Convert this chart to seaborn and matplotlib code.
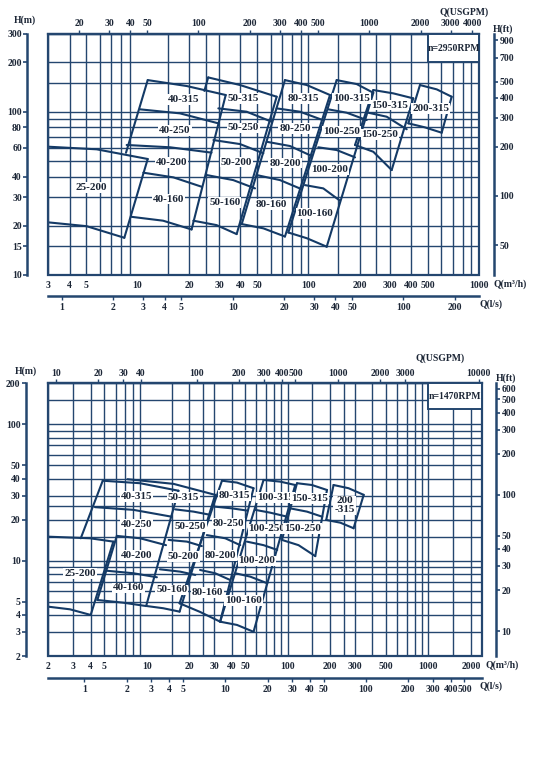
import matplotlib
matplotlib.use("Agg")
import numpy as np
import pandas as pd
import matplotlib.pyplot as plt
import seaborn as sns
from matplotlib.patches import Rectangle
from matplotlib.ticker import NullLocator

# ======================= DATA =======================
# ---- upper chart: n = 2950 rpm ; Q in m3/h, H in m ----
hi_25_models = ['25-200']
hi_25_Q = [[3.0, 5.76, 11.46], [3.0, 5.03, 8.36]]
hi_25_H = [[61.0, 58.8, 51.3], [21.0, 19.9, 16.9]]
hi_25_leftQ = []
hi_25_leftH = []

hi_40_models = ['40-315', '40-250', '40-200', '40-160']
hi_40_Q = [[11.46, 19.38, 32.8], [10.33, 17.7, 29.7], [8.63, 15.5, 27.1],
           [10.8, 16.2, 23.7], [9.23, 14.1, 20.7]]
hi_40_H = [[156, 143.5, 126.4], [103.3, 97.6, 84.8], [62.5, 60.5, 56.1],
           [42.3, 39.6, 34.7], [22.7, 21.5, 19.0]]
hi_40_leftQ = [[11.46, 8.55]]
hi_40_leftH = [[156, 56.0]]

hi_50_models = ['50-315', '50-250', '50-200', '50-160']
hi_50_Q = [[25.9, 39.8, 65.2], [29.7, 43.5, 61.0], [27.8, 39.8, 54.5],
           [25.4, 36.3, 48.7], [21.2, 29.0, 38.0]]
hi_50_H = [[162, 145.5, 123.4], [104.7, 99.9, 86.7], [67.0, 63.3, 55.6],
           [40.9, 38.1, 33.9], [21.5, 20.2, 17.8]]
hi_50_leftQ = [[25.9, 24.6]]
hi_50_leftH = [[162, 134]]

hi_80_models = ['80-315', '80-250', '80-200', '80-160']
hi_80_Q = [[72.9, 97.8, 133.8], [65.2, 89.3, 121.3], [57.0, 78.0, 104.6],
           [49.8, 68.2, 91.4], [40.7, 54.5, 72.9]]
hi_80_H = [[156, 145.5, 126.4], [104.7, 99.9, 88.8], [65.4, 61.6, 53.5],
           [40.9, 38.1, 33.5], [20.5, 19.3, 17.2]]
hi_80_leftQ = [[72.9, 40.7]]
hi_80_leftH = [[156, 20.5]]

hi_100_models = ['100-315', '100-250', '100-200', '100-160']
hi_100_Q = [[146.4, 191.7, 239.9], [130.8, 167.6, 219.4], [114.2, 146.4, 187.5],
            [95.5, 122.2, 153.1], [76.3, 97.8, 128.0]]
hi_100_H = [[156, 147.5, 130.5], [103.3, 98.5, 88.8], [60.5, 58.2, 52.5],
            [35.5, 33.9, 28.5], [18.2, 16.8, 14.9]]
hi_100_leftQ = [[146.4, 76.3]]
hi_100_leftH = [[156, 18.2]]

hi_150_models = ['150-315', '150-250']
hi_150_Q = [[239.9, 314, 411], [224.2, 287.4, 376.3], [187.5, 239.9, 307.3]]
hi_150_H = [[135.6, 129.4, 120.6], [98.5, 93.1, 78.0], [62.5, 56.8, 43.9]]
hi_150_leftQ = [[239.9, 187.5]]
hi_150_leftH = [[135.6, 62.5]]

hi_200_models = ['200-315']
hi_200_Q = [[450, 564, 690], [384.6, 481.7, 603]]
hi_200_H = [[145.5, 136.9, 123.4], [84.8, 80.1, 74.3]]
hi_200_leftQ = [[450, 384.6]]
hi_200_leftH = [[145.5, 84.8]]

# ---- lower chart: n = 1470 rpm ----
lo_25_models = ['25-200']
lo_25_Q = [[2.0, 3.96, 5.79], [2.0, 2.85, 4.00]]
lo_25_H = [[15.0, 14.6, 13.8], [4.60, 4.40, 4.00]]
lo_25_leftQ = []
lo_25_leftH = []

lo_40_models = ['40-315', '40-250', '40-200', '40-160']
lo_40_Q = [[4.87, 8.97, 16.8], [4.29, 8.04, 15.1], [6.13, 8.97, 13.7],
           [5.14, 8.04, 11.8], [4.46, 6.82, 9.90]]
lo_40_H = [[38.6, 37.0, 32.6], [24.7, 23.6, 21.0], [15.2, 14.6, 13.0],
           [8.45, 8.09, 7.56], [5.15, 4.92, 4.65]]
lo_40_leftQ = [[4.87, 3.40], [6.13, 4.46]]
lo_40_leftH = [[38.6, 14.6], [15.2, 5.15]]

lo_50_models = ['50-315', '50-250', '50-200', '50-160']
lo_50_Q = [[7.29, 15.5, 30.6], [15.9, 21.5, 28.2], [14.3, 19.3, 24.6],
           [12.4, 17.3, 22.1], [10.0, 13.1, 17.1]]
lo_50_H = [[39.6, 36.6, 30.4], [23.8, 22.9, 21.7], [14.2, 13.8, 12.8],
           [8.65, 8.31, 7.86], [4.65, 4.48, 4.23]]
lo_50_leftQ = []
lo_50_leftH = []

lo_80_models = ['80-315', '80-250', '80-200', '80-160']
lo_80_Q = [[34.2, 43.7, 57.3], [30.6, 40.2, 51.9], [26.7, 36.1, 46.1],
           [23.9, 30.6, 39.1], [17.1, 23.9, 33.2]]
lo_80_H = [[38.6, 37.4, 34.0], [24.9, 24.2, 23.3], [15.4, 14.6, 13.0],
           [8.55, 8.09, 7.22], [4.87, 4.21, 3.57]]
lo_80_leftQ = [[34.2, 17.1]]
lo_80_leftH = [[38.6, 4.87]]

lo_100_models = ['100-315', '100-250', '100-200', '100-160']
lo_100_Q = [[67.5, 88.7, 113.3], [58.9, 75.3, 99.9], [51.4, 67.5, 84.4],
            [42.5, 54.3, 71.7], [33.2, 43.7, 57.3]]
lo_100_H = [[39.1, 38.0, 35.9], [23.6, 22.5, 21.0], [13.8, 13.0, 12.0],
            [8.09, 7.64, 6.83], [3.57, 3.38, 3.01]]
lo_100_leftQ = [[67.5, 33.2]]
lo_100_leftH = [[39.1, 3.57]]

lo_150_models = ['150-315', '150-250']
lo_150_Q = [[116.6, 149, 190.4], [104.4, 137.3, 176.3], [91.2, 119.6, 157.2]]
lo_150_H = [[37.0, 35.9, 33.0], [24.2, 22.9, 21.0], [14.2, 13.0, 10.8]]
lo_150_leftQ = [[116.6, 91.2]]
lo_150_leftH = [[37.0, 14.2]]

lo_200_models = ['200\n-315']
lo_200_Q = [[212, 271, 347], [188, 237, 294]]
lo_200_H = [[35.9, 34.0, 30.4], [19.9, 19.0, 17.3]]
lo_200_leftQ = [[212, 188]]
lo_200_leftH = [[35.9, 19.9]]

# ---- axes ticks / grids ----
hi_xlim = (3, 1000)
hi_ylim = (10, 300)
hi_grid_x = [3, 4, 5, 6, 7, 8, 9, 15, 20, 25, 30, 40, 50, 60, 70, 80, 90, 100, 150,
             200, 250, 300, 400, 500, 600, 700, 800, 900, 1000]
hi_grid_y = [10, 15, 20, 30, 40, 50, 60, 70, 80, 90, 100, 150, 200, 300]
hi_m3h_ticks = [3, 4, 5, 10, 20, 30, 40, 50, 100, 200, 300, 400, 500, 1000]
hi_ls_ticks = [1, 2, 3, 4, 5, 10, 20, 30, 40, 50, 100, 200]
hi_gpm_ticks = [20, 30, 40, 50, 100, 200, 300, 400, 500, 1000, 2000, 3000, 4000]
hi_h_ticks = [10, 15, 20, 30, 40, 60, 80, 100, 200, 300]
hi_ft_ticks = [50, 100, 200, 300, 400, 500, 700, 900]

lo_xlim = (2, 2400)
lo_ylim = (2, 200)
lo_grid_x = [2, 3, 4, 5, 6, 7, 8, 9, 15, 20, 25, 30, 40, 50, 60, 70, 80, 90, 100, 150,
             200, 250, 300, 400, 500, 600, 700, 800, 900, 1000, 1500, 2000]
lo_grid_y = [2, 3, 4, 5, 6, 7, 8, 9, 10, 15, 20, 25, 30, 40, 50, 60, 70, 80, 90,
             100, 150, 200]
lo_m3h_ticks = [2, 3, 4, 5, 10, 20, 30, 40, 50, 100, 200, 300, 500, 1000, 2000]
lo_ls_ticks = [1, 2, 3, 4, 5, 10, 20, 30, 40, 50, 100, 200, 300, 400, 500]
lo_gpm_ticks = [10, 20, 30, 40, 100, 200, 300, 400, 500, 1000, 2000, 3000, 10000]
lo_h_ticks = [2, 3, 4, 5, 10, 20, 30, 40, 50, 100, 200]
lo_ft_ticks = [10, 20, 30, 40, 50, 100, 200, 300, 400, 500, 600]

# ======================= STYLE =======================
sns.set_theme(style='white')
plt.rcParams['font.family'] = ['Liberation Serif', 'DejaVu Sans']
plt.rcParams['font.weight'] = 'bold'
GRID = '#24466f'
CURVE = '#143a66'
TXT = '#1c2636'
W, Hpx = 544, 774

fig = plt.figure(figsize=(W / 100, Hpx / 100), dpi=100)
fig.patch.set_facecolor('white')


def fx(px):
    return px / W


def fy(py):
    return 1 - py / Hpx


def draw_chart(ax, fams, xlim, ylim, gx, gy, m3h, ls, gpm, hm, ft,
               left_out, ls_loc, ft_loc, rpm_text, box):
    ax.set_xscale('log')
    ax.set_yscale('log')
    ax.set_xlim(*xlim)
    ax.set_ylim(*ylim)
    ax.set_facecolor('white')
    for v in gx:
        ax.axvline(v, color=GRID, lw=1.0, zorder=1)
    for v in gy:
        ax.axhline(v, color=GRID, lw=1.0, zorder=1)

    rows = []
    for k, (models, Qs, Hs, lQ, lH) in enumerate(fams):
        for i, (q, h) in enumerate(zip(Qs, Hs)):
            rows += [dict(seg=f'{k}c{i}', Q=a, H=b) for a, b in zip(q, h)]
        rows += [dict(seg=f'{k}r', Q=Qs[0][-1], H=Hs[0][-1]),
                 dict(seg=f'{k}r', Q=Qs[-1][-1], H=Hs[-1][-1])]
        for j, (q, h) in enumerate(zip(lQ, lH)):
            rows += [dict(seg=f'{k}l{j}', Q=a, H=b) for a, b in zip(q, h)]
    df = pd.DataFrame(rows)
    sns.lineplot(data=df, x='Q', y='H', units='seg', estimator=None, sort=False,
                 color=CURVE, lw=1.5, ax=ax, legend=False, zorder=3)
    ax.set_xlabel('')
    ax.set_ylabel('')

    for models, Qs, Hs, _, _ in fams:
        for i, m in enumerate(models):
            qc = np.sqrt(Qs[i][1] * Qs[i + 1][1])
            hc = np.sqrt(Hs[i][1] * Hs[i + 1][1])
            ax.text(qc, hc, m, ha='center', va='center', fontsize=8,
                    color=TXT, fontweight='bold', zorder=5, linespacing=1.0,
                    bbox=dict(boxstyle='square,pad=0.08', fc='white', ec='none'))

    # border
    ax.add_patch(Rectangle((0, 0), 1, 1, transform=ax.transAxes, fill=False,
                           ec=GRID, lw=1.6, zorder=4, clip_on=False))
    # rpm box
    ax.add_patch(Rectangle((box[0], box[2]), box[1] - box[0], box[3] - box[2],
                           fc='white', ec=GRID, lw=1.4, zorder=4))
    ax.text(np.sqrt(box[0] * box[1]), np.sqrt(box[2] * box[3]), rpm_text,
            ha='center', va='center', fontsize=7, color=TXT, zorder=6)

    for s in ['top', 'right', 'bottom']:
        ax.spines[s].set_visible(False)
    ax.spines['left'].set_position(('outward', left_out))
    ax.spines['left'].set_color(GRID)
    ax.spines['left'].set_linewidth(1.8)

    ax.set_xticks(m3h, labels=[str(v) for v in m3h])
    ax.set_yticks(hm, labels=[str(v) for v in hm])
    ax.xaxis.set_minor_locator(NullLocator())
    ax.yaxis.set_minor_locator(NullLocator())
    ax.tick_params(axis='x', length=0, pad=4, labelsize=7, labelcolor=TXT)
    ax.tick_params(axis='y', length=3, width=1.2, color=GRID, direction='out',
                   pad=1, labelsize=7, labelcolor=TXT, left=True)

    top = ax.secondary_xaxis('top', functions=(lambda q: q * 4.4029,
                                               lambda g: g / 4.4029))
    top.set_xticks(gpm, labels=[str(v) for v in gpm])
    top.xaxis.set_minor_locator(NullLocator())
    top.tick_params(axis='x', length=3, width=1, color=GRID, pad=1,
                    labelsize=7, labelcolor=TXT)
    top.spines['top'].set_color(GRID)
    top.spines['top'].set_linewidth(1.6)

    sl = ax.secondary_xaxis(ls_loc, functions=(lambda q: q / 3.6,
                                               lambda l: l * 3.6))
    sl.set_xticks(ls, labels=[str(v) for v in ls])
    sl.xaxis.set_minor_locator(NullLocator())
    sl.tick_params(axis='x', length=3, width=1, color=GRID, pad=2,
                   labelsize=7, labelcolor=TXT)
    sl.spines['bottom'].set_color(GRID)
    sl.spines['bottom'].set_linewidth(1.8)

    sf = ax.secondary_yaxis(ft_loc, functions=(lambda h: h * 3.2808,
                                               lambda f: f / 3.2808))
    sf.set_yticks(ft, labels=[str(v) for v in ft])
    sf.yaxis.set_minor_locator(NullLocator())
    sf.tick_params(axis='y', length=3, width=1.2, color=GRID, pad=1,
                   labelsize=7, labelcolor=TXT)
    sf.spines['right'].set_color(GRID)
    sf.spines['right'].set_linewidth(1.8)


hi_fams = [
    (hi_25_models, hi_25_Q, hi_25_H, hi_25_leftQ, hi_25_leftH),
    (hi_40_models, hi_40_Q, hi_40_H, hi_40_leftQ, hi_40_leftH),
    (hi_50_models, hi_50_Q, hi_50_H, hi_50_leftQ, hi_50_leftH),
    (hi_80_models, hi_80_Q, hi_80_H, hi_80_leftQ, hi_80_leftH),
    (hi_100_models, hi_100_Q, hi_100_H, hi_100_leftQ, hi_100_leftH),
    (hi_150_models, hi_150_Q, hi_150_H, hi_150_leftQ, hi_150_leftH),
    (hi_200_models, hi_200_Q, hi_200_H, hi_200_leftQ, hi_200_leftH),
]
lo_fams = [
    (lo_25_models, lo_25_Q, lo_25_H, lo_25_leftQ, lo_25_leftH),
    (lo_40_models, lo_40_Q, lo_40_H, lo_40_leftQ, lo_40_leftH),
    (lo_50_models, lo_50_Q, lo_50_H, lo_50_leftQ, lo_50_leftH),
    (lo_80_models, lo_80_Q, lo_80_H, lo_80_leftQ, lo_80_leftH),
    (lo_100_models, lo_100_Q, lo_100_H, lo_100_leftQ, lo_100_leftH),
    (lo_150_models, lo_150_Q, lo_150_H, lo_150_leftQ, lo_150_leftH),
    (lo_200_models, lo_200_Q, lo_200_H, lo_200_leftQ, lo_200_leftH),
]

# upper chart
ax1 = fig.add_axes([fx(48.3), fy(275), (479.2 - 48.3) / W, (275 - 33.7) / Hpx])
draw_chart(ax1, hi_fams, hi_xlim, hi_ylim, hi_grid_x, hi_grid_y,
           hi_m3h_ticks, hi_ls_ticks, hi_gpm_ticks, hi_h_ticks, hi_ft_ticks,
           left_out=15, ls_loc=-20.7 / 241.3, ft_loc=1 + 14.8 / 430.9,
           rpm_text='n=2950RPM', box=(500, 1000, 200, 300))

# lower chart
ax2 = fig.add_axes([fx(48.3), fy(656), (482 - 48.3) / W, (656 - 383.3) / Hpx])
draw_chart(ax2, lo_fams, lo_xlim, lo_ylim, lo_grid_x, lo_grid_y,
           lo_m3h_ticks, lo_ls_ticks, lo_gpm_ticks, lo_h_ticks, lo_ft_ticks,
           left_out=16, ls_loc=-21.7 / 272.7, ft_loc=1 + 14 / 433.7,
           rpm_text='n=1470RPM', box=(1000, 2400, 130, 200))

# axis captions
cap = dict(fontsize=7, color=TXT, fontweight='bold')
fig.text(fx(25), fy(20), 'H(m)', ha='center', va='center', **cap)
fig.text(fx(464), fy(12), 'Q(USGPM)', ha='center', va='center', **cap)
fig.text(fx(503), fy(29), 'H(ft)', ha='center', va='center', **cap)
fig.text(fx(494), fy(284), 'Q(m³/h)', ha='left', va='center', **cap)
fig.text(fx(480), fy(304.5), 'Q(l/s)', ha='left', va='center', **cap)

fig.text(fx(26), fy(371), 'H(m)', ha='center', va='center', **cap)
fig.text(fx(440), fy(358), 'Q(USGPM)', ha='center', va='center', **cap)
fig.text(fx(506), fy(378), 'H(ft)', ha='center', va='center', **cap)
fig.text(fx(486), fy(665.5), 'Q(m³/h)', ha='left', va='center', **cap)
fig.text(fx(479), fy(686), 'Q(l/s)', ha='left', va='center', **cap)

fig.savefig('out.png', dpi=100, facecolor='white')
